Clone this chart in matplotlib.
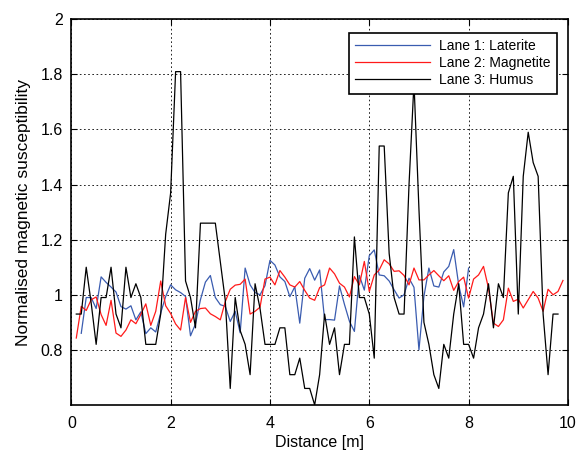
import numpy as np
import matplotlib.pyplot as plt

plt.rcParams['font.family'] = ['Liberation Sans', 'DejaVu Sans']
plt.rcParams['font.size'] = 11.5

# Lane 1 (laterite), sampled every 0.1 m from 0.2 to 8.0 m
dist_laterite = np.round(np.arange(0.2, 8.05, 0.1), 1)
laterite = [0.86, 0.99, 0.99, 0.95, 1.065, 1.045, 1.028, 1.01, 0.957, 0.948,
            0.96, 0.909, 0.938, 0.859, 0.88, 0.865, 0.934, 0.994, 1.036, 1.018,
            1.008, 0.994, 0.851, 0.894, 0.982, 1.046, 1.07, 0.99, 0.964, 0.958,
            0.903, 0.94, 0.862, 1.097, 1.036, 1.008, 1.0, 1.033, 1.125, 1.108,
            1.065, 1.048, 0.993, 1.029, 0.897, 1.06, 1.095, 1.053, 1.09, 0.91,
            0.91, 0.908, 1.032, 0.965, 0.904, 0.867, 1.07, 1.017, 1.142, 1.163,
            1.072, 1.069, 1.05, 1.018, 0.988, 1.0, 1.06, 1.027, 0.80, 0.994,
            1.097, 1.032, 1.028, 1.083, 1.103, 1.164, 1.036, 0.956, 1.097]

# Lane 2 (magnetite), 0.1 m to 9.9 m
dist_magnetite = np.round(np.arange(0.1, 9.95, 0.1), 1)
magnetite = [0.843, 0.958, 0.943, 0.982, 0.992, 0.928, 0.889, 0.98, 0.861, 0.849,
             0.872, 0.909, 0.895, 0.929, 0.967, 0.889, 0.94, 1.05, 0.96, 0.932,
             0.894, 0.872, 0.99, 0.90, 0.94, 0.95, 0.952, 0.931, 0.921, 0.909,
             0.975, 1.02, 1.035, 1.038, 1.057, 0.93, 0.94, 0.955, 1.057, 1.064,
             1.036, 1.088, 1.064, 1.036, 1.028, 1.048, 1.016, 0.988, 0.98, 1.026,
             1.036, 1.097, 1.076, 1.042, 1.028, 0.992, 1.066, 1.036, 1.121, 1.012,
             1.072, 1.09, 1.127, 1.112, 1.085, 1.087, 1.07, 1.036, 1.097, 1.054,
             1.054, 1.072, 1.088, 1.069, 1.051, 1.069, 1.016, 1.048, 1.064, 0.988,
             1.057, 1.072, 1.103, 1.024, 0.897, 0.885, 0.909, 1.024, 0.976, 0.984,
             0.952, 0.982, 1.012, 0.988, 0.94, 1.02, 1.0, 1.012, 1.052]

# Lane 3 (humus), 0.1 m to 9.8 m
dist_humus = np.round(np.arange(0.1, 9.85, 0.1), 1)
humus = [0.93, 0.93, 1.10, 0.97, 0.82, 0.99, 0.99, 1.10, 0.93, 0.88,
         1.10, 0.99, 1.04, 0.99, 0.82, 0.82, 0.82, 0.93, 1.22, 1.37,
         1.81, 1.81, 1.05, 0.99, 0.88, 1.26, 1.26, 1.26, 1.26, 1.12,
         0.98, 0.66, 0.99, 0.87, 0.82, 0.71, 1.04, 0.95, 0.82, 0.82,
         0.82, 0.88, 0.88, 0.71, 0.71, 0.77, 0.66, 0.66, 0.60, 0.71,
         0.93, 0.82, 0.88, 0.71, 0.82, 0.82, 1.21, 0.99, 0.99, 0.93,
         0.77, 1.54, 1.54, 1.15, 0.99, 0.93, 0.93, 1.40, 1.77, 1.31,
         0.90, 0.82, 0.71, 0.66, 0.82, 0.77, 0.93, 1.04, 0.82, 0.82,
         0.77, 0.88, 0.93, 1.04, 0.88, 1.04, 0.99, 1.37, 1.43, 0.93,
         1.43, 1.59, 1.48, 1.43, 0.93, 0.71, 0.93, 0.93]

fig = plt.figure(figsize=(5.77, 4.54), dpi=100)
ax = fig.add_axes([0.1236, 0.108, 0.8607, 0.8495])

ax.plot(dist_laterite, laterite, color='#3a5cb0', lw=0.9, label='Lane 1: Laterite')
ax.plot(dist_magnetite, magnetite, color='#ff1a1a', lw=0.9, label='Lane 2: Magnetite')
ax.plot(dist_humus, humus, color='black', lw=0.9, label='Lane 3: Humus')

ax.set_xlim(0, 10)
ax.set_ylim(0.6, 2)
ax.set_xticks(np.arange(0, 11, 2))
ax.set_yticks([0.8, 1, 1.2, 1.4, 1.6, 1.8, 2])
ax.set_yticklabels(['0.8', '1', '1.2', '1.4', '1.6', '1.8', '2'])
ax.grid(True, color='black', linestyle=(0, (2, 3)), linewidth=0.6)
ax.tick_params(direction='in', top=True, right=True, length=4, width=0.8)
ax.tick_params(axis='x', pad=8)
ax.tick_params(axis='y', pad=6)
for s in ax.spines.values():
    s.set_linewidth(1.2)

ax.set_xlabel('Distance [m]', labelpad=3)
ax.set_ylabel('Normalised magnetic susceptibility', fontsize=12.5, labelpad=7)

leg = ax.legend(loc='upper right', bbox_to_anchor=(0.978, 0.9645), borderaxespad=0,
                fancybox=False, framealpha=1, edgecolor='black', fontsize=10,
                handlelength=5.4, handletextpad=0.65, labelspacing=0.22,
                borderpad=0.45)
leg.get_frame().set_linewidth(1.2)

fig.savefig('out.png', dpi=100)
